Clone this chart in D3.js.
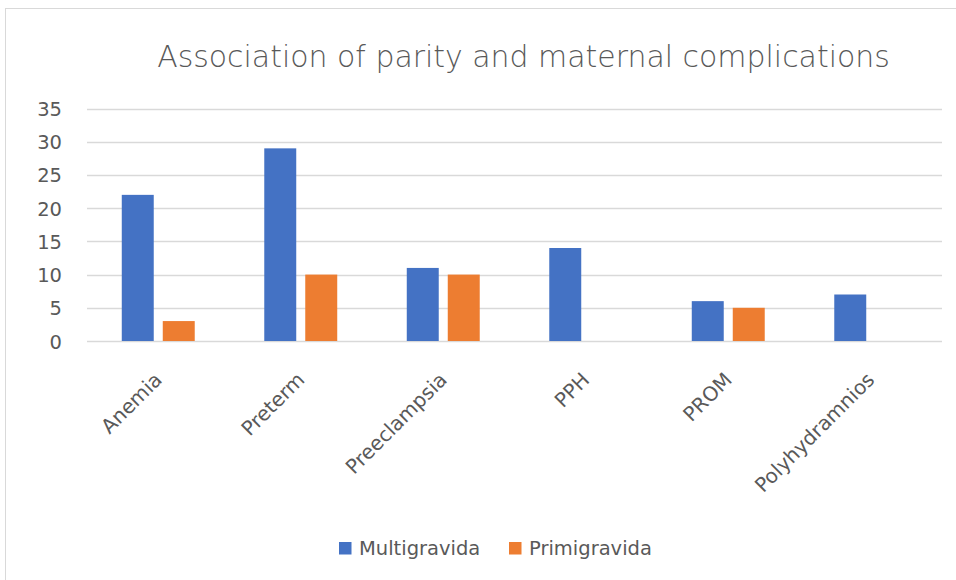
<!DOCTYPE html>
<html>
<head>
<meta charset="utf-8">
<script src="https://cdn.jsdelivr.net/npm/d3@7"></script>
<style>
  body { margin: 0; background: #fff; }
  svg text { font-family: 'DejaVu Sans', sans-serif; fill: #595959; }
</style>
</head>
<body>
<div id="chart"></div>
<script>
const categories = ['Anemia', 'Preterm', 'Preeclampsia', 'PPH', 'PROM', 'Polyhydramnios']
const seriesNames = ['Multigravida', 'Primigravida']
const multigravida = [22, 29, 11, 14, 6, 7]
const primigravida = [3, 10, 10, 0, 5, 0]
const yTicks = [0, 5, 10, 15, 20, 25, 30, 35]
const colors = ['#4472C4', '#ED7D31']

const width = 956
const height = 580
const plot = { left: 87, right: 942, top: 108.5, bottom: 341 }

const svg = d3.select('#chart')
    .append('svg')
    .attr('width', width)
    .attr('height', height)

// chart area border (top + left visible)
svg.append('rect')
    .attr('x', 5.5)
    .attr('y', 8.5)
    .attr('width', 1000)
    .attr('height', 1000)
    .attr('fill', 'none')
    .attr('stroke', '#d9d9d9')

const x0 = d3.scaleBand()
    .domain(categories)
    .range([plot.left, plot.right])
    .paddingInner(0.488)
    .paddingOuter(0.244)

const x1 = d3.scaleBand()
    .domain(seriesNames)
    .range([0, x0.bandwidth()])
    .paddingInner(0.22)

const y = d3.scaleLinear()
    .domain([0, 35])
    .range([plot.bottom, plot.top])

// gridlines
svg.append('g')
    .selectAll('line')
    .data(yTicks)
    .enter()
    .append('line')
    .attr('x1', plot.left)
    .attr('x2', plot.right)
    .attr('y1', (d) => Math.round(y(d)) + 0.5)
    .attr('y2', (d) => Math.round(y(d)) + 0.5)
    .attr('stroke', '#d9d9d9')
    .attr('stroke-width', 1.3)

// y axis labels
const yAxis = d3.axisLeft(y).tickValues(yTicks).tickSize(0).tickPadding(0)
const yAxisNode = svg.append('g')
    .attr('transform', `translate(62, 0)`)
    .call(yAxis)
yAxisNode.select('.domain').remove()
yAxisNode.selectAll('text')
    .attr('font-family', null)
    .style('font-size', '19.5px')
    .attr('dy', '0.36em')

// bars
const rows = categories.map((c, i) => ({
    category: c,
    values: [multigravida[i], primigravida[i]],
}))

const groups = svg.append('g')
    .selectAll('g')
    .data(rows)
    .enter()
    .append('g')
    .attr('transform', (d) => `translate(${x0(d.category)}, 0)`)

groups.selectAll('rect')
    .data((d) => d.values.map((v, j) => ({ series: seriesNames[j], value: v, idx: j })))
    .enter()
    .append('rect')
    .attr('x', (d) => x1(d.series))
    .attr('width', x1.bandwidth())
    .attr('y', (d) => y(d.value))
    .attr('height', (d) => y(0) - y(d.value))
    .attr('fill', (d) => colors[d.idx])

// x labels
const xAxis = d3.axisBottom(x0).tickSize(0).tickPadding(0)
const xAxisNode = svg.append('g')
    .attr('transform', `translate(0, ${plot.bottom})`)
    .call(xAxis)
xAxisNode.select('.domain').remove()
xAxisNode.selectAll('text')
    .attr('font-family', null)
    .style('font-size', '20px')
    .attr('text-anchor', 'end')
    .attr('dy', 0)
    .attr('y', 0)
    .attr('transform', 'translate(5, 40) rotate(-45)')

// title
const title = svg.append('text')
    .attr('x', 523.5)
    .attr('y', 67)
    .attr('text-anchor', 'middle')
    .style('font-size', '30px')
    .style('font-weight', 300)
    .text('Association of parity and maternal complications')
const tw = title.node().getComputedTextLength()
title.style('font-size', `${(30 * 733) / tw}px`)

// legend
const legendItems = [
    { name: seriesNames[0], x: 339, color: colors[0] },
    { name: seriesNames[1], x: 509, color: colors[1] },
]
const legend = svg.append('g')
    .selectAll('g')
    .data(legendItems)
    .enter()
    .append('g')
    .attr('transform', (d) => `translate(${d.x}, 542)`)
legend.append('rect')
    .attr('width', 12.5)
    .attr('height', 12.5)
    .attr('fill', (d) => d.color)
legend.append('text')
    .attr('x', 20)
    .attr('y', 12.5)
    .style('font-size', '19.5px')
    .text((d) => d.name)
</script>
</body>
</html>
